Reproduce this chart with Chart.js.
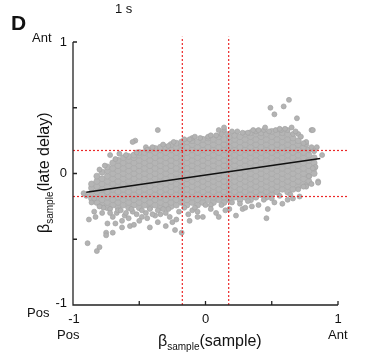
<!DOCTYPE html>
<html>
<head>
<meta charset="utf-8">
<script src="https://cdn.jsdelivr.net/npm/chart.js@4.4.1/dist/chart.umd.min.js"></script>
<style>
  html, body { margin: 0; padding: 0; background: #fff; }
  canvas { display: block; }
</style>
</head>
<body>
<canvas id="betaChart" width="374" height="363"></canvas>
<script>
// dense part of the cloud, read column by column (x, then the y values in that column)
const coreColX = [-0.86, -0.82, -0.78, -0.74, -0.70, -0.66, -0.62, -0.58, -0.54, -0.50, -0.46,
  -0.42, -0.38, -0.34, -0.30, -0.26, -0.22, -0.18, -0.14, -0.10, -0.06, -0.02, 0.02, 0.06,
  0.10, 0.14, 0.18, 0.22, 0.26, 0.30, 0.34, 0.38, 0.42, 0.46, 0.50, 0.54, 0.58, 0.62, 0.66,
  0.70, 0.74, 0.78, 0.82];
const coreColY = [
  [-0.19, -0.15, -0.11, -0.08],
  [-0.22, -0.18, -0.14, -0.10, -0.06, -0.02],
  [-0.24, -0.20, -0.16, -0.12, -0.08, -0.04, 0.01],
  [-0.26, -0.22, -0.18, -0.14, -0.10, -0.06, -0.02, 0.02, 0.05],
  [-0.24, -0.20, -0.16, -0.12, -0.08, -0.04, 0.00, 0.04, 0.08],
  [-0.26, -0.22, -0.18, -0.14, -0.10, -0.06, -0.02, 0.02, 0.06, 0.10],
  [-0.24, -0.20, -0.16, -0.12, -0.08, -0.04, 0.00, 0.04, 0.08, 0.12],
  [-0.26, -0.22, -0.18, -0.14, -0.10, -0.06, -0.02, 0.02, 0.06, 0.10, 0.13],
  [-0.24, -0.20, -0.16, -0.12, -0.08, -0.04, 0.00, 0.04, 0.08, 0.12, 0.14],
  [-0.26, -0.22, -0.18, -0.14, -0.10, -0.06, -0.02, 0.02, 0.06, 0.10, 0.14, 0.16],
  [-0.24, -0.20, -0.16, -0.12, -0.08, -0.04, 0.00, 0.04, 0.08, 0.12, 0.16],
  [-0.26, -0.22, -0.18, -0.14, -0.10, -0.06, -0.02, 0.02, 0.06, 0.10, 0.14, 0.18],
  [-0.24, -0.20, -0.16, -0.12, -0.08, -0.04, 0.00, 0.04, 0.08, 0.12, 0.16, 0.19],
  [-0.26, -0.22, -0.18, -0.14, -0.10, -0.06, -0.02, 0.02, 0.06, 0.10, 0.14, 0.18, 0.20],
  [-0.24, -0.20, -0.16, -0.12, -0.08, -0.04, 0.00, 0.04, 0.08, 0.12, 0.16, 0.20],
  [-0.25, -0.22, -0.18, -0.14, -0.10, -0.06, -0.02, 0.02, 0.06, 0.10, 0.14, 0.18, 0.22],
  [-0.24, -0.20, -0.16, -0.12, -0.08, -0.04, 0.00, 0.04, 0.08, 0.12, 0.16, 0.20, 0.23],
  [-0.22, -0.18, -0.14, -0.10, -0.06, -0.02, 0.02, 0.06, 0.10, 0.14, 0.18, 0.22, 0.24],
  [-0.24, -0.20, -0.16, -0.12, -0.08, -0.04, 0.00, 0.04, 0.08, 0.12, 0.16, 0.20, 0.24],
  [-0.22, -0.18, -0.14, -0.10, -0.06, -0.02, 0.02, 0.06, 0.10, 0.14, 0.18, 0.22, 0.25],
  [-0.24, -0.20, -0.16, -0.12, -0.08, -0.04, 0.00, 0.04, 0.08, 0.12, 0.16, 0.20, 0.24],
  [-0.22, -0.18, -0.14, -0.10, -0.06, -0.02, 0.02, 0.06, 0.10, 0.14, 0.18, 0.22, 0.26],
  [-0.20, -0.16, -0.12, -0.08, -0.04, 0.00, 0.04, 0.08, 0.12, 0.16, 0.20, 0.24, 0.27],
  [-0.22, -0.18, -0.14, -0.10, -0.06, -0.02, 0.02, 0.06, 0.10, 0.14, 0.18, 0.22, 0.26],
  [-0.20, -0.16, -0.12, -0.08, -0.04, 0.00, 0.04, 0.08, 0.12, 0.16, 0.20, 0.24, 0.28],
  [-0.22, -0.18, -0.14, -0.10, -0.06, -0.02, 0.02, 0.06, 0.10, 0.14, 0.18, 0.22, 0.26],
  [-0.20, -0.16, -0.12, -0.08, -0.04, 0.00, 0.04, 0.08, 0.12, 0.16, 0.20, 0.24, 0.28],
  [-0.18, -0.14, -0.10, -0.06, -0.02, 0.02, 0.06, 0.10, 0.14, 0.18, 0.22, 0.26, 0.29],
  [-0.20, -0.16, -0.12, -0.08, -0.04, 0.00, 0.04, 0.08, 0.12, 0.16, 0.20, 0.24, 0.28],
  [-0.18, -0.14, -0.10, -0.06, -0.02, 0.02, 0.06, 0.10, 0.14, 0.18, 0.22, 0.26, 0.30],
  [-0.20, -0.16, -0.12, -0.08, -0.04, 0.00, 0.04, 0.08, 0.12, 0.16, 0.20, 0.24, 0.28, 0.31],
  [-0.18, -0.14, -0.10, -0.06, -0.02, 0.02, 0.06, 0.10, 0.14, 0.18, 0.22, 0.26, 0.30],
  [-0.16, -0.12, -0.08, -0.04, 0.00, 0.04, 0.08, 0.12, 0.16, 0.20, 0.24, 0.28, 0.31],
  [-0.18, -0.14, -0.10, -0.06, -0.02, 0.02, 0.06, 0.10, 0.14, 0.18, 0.22, 0.26, 0.30],
  [-0.16, -0.12, -0.08, -0.04, 0.00, 0.04, 0.08, 0.12, 0.16, 0.20, 0.24, 0.28, 0.32],
  [-0.14, -0.10, -0.06, -0.02, 0.02, 0.06, 0.10, 0.14, 0.18, 0.22, 0.26, 0.30],
  [-0.12, -0.08, -0.04, 0.00, 0.04, 0.08, 0.12, 0.16, 0.20, 0.24, 0.28, 0.31],
  [-0.14, -0.10, -0.06, -0.02, 0.02, 0.06, 0.10, 0.14, 0.18, 0.22, 0.26, 0.30],
  [-0.12, -0.08, -0.04, 0.00, 0.04, 0.08, 0.12, 0.16, 0.20, 0.24, 0.27],
  [-0.10, -0.06, -0.02, 0.02, 0.06, 0.10, 0.14, 0.18, 0.22, 0.25],
  [-0.08, -0.04, 0.00, 0.04, 0.08, 0.12, 0.16, 0.20],
  [-0.06, -0.02, 0.02, 0.06, 0.10, 0.14, 0.18],
  [0.00, 0.04, 0.08, 0.12]
];

// loose points around the edges of the cloud (x and y lists, same order)
const edgeX = [
  // above the band
  -0.36, -0.53, -0.55, -0.72, -0.65, -0.45, -0.10, -0.08, 0.02, 0.10, 0.14, 0.14,
  0.20, 0.24, 0.32, 0.48, 0.53, 0.57, 0.49, 0.59, 0.63, 0.52, 0.69, 0.65, 0.80, 0.81, 0.70,
  0.62, 0.44, 0.38,
  -0.80, -0.76, -0.68, -0.60, -0.52, -0.44, -0.40, -0.32, -0.28, -0.24, -0.16, -0.12,
  -0.04, 0.04, 0.08, 0.12, 0.16, 0.28, 0.36, 0.40, 0.45, 0.56, 0.60, 0.66, 0.68, 0.72, 0.76,
  // right end
  0.84, 0.88, 0.83, 0.81, 0.78, 0.85, 0.76, 0.76, 0.80, 0.82, 0.74,
  // below the band, right half
  0.47, 0.46, 0.58, 0.71, 0.76, 0.85, 0.66, 0.62, 0.52, 0.40, 0.35, 0.28,
  0.00, 0.04, 0.12, 0.20, 0.26, 0.32, 0.44, 0.50, 0.56, 0.64, 0.70, 0.74, 0.80, 0.30, 0.18,
  // below the band, middle
  0.23, 0.10, -0.02, -0.06, 0.08, -0.13, -0.18, -0.23, -0.25, -0.36, -0.38, -0.22, 0.15,
  -0.10, -0.30, -0.20, 0.04, -0.16, -0.08, -0.12, -0.06, -0.27, -0.34,
  // below the band, left half
  -0.88, -0.89, -0.82, -0.80, -0.75, -0.75, -0.70, -0.63, -0.57, -0.54, -0.74, -0.63,
  -0.86, -0.84, -0.78, -0.67, -0.61, -0.52, -0.45, -0.70, -0.58, -0.48, -0.40, -0.66, -0.55,
  -0.77, -0.90, -0.92, -0.84, -0.80, -0.72, -0.64, -0.56, -0.48, -0.42, -0.36, -0.32, -0.28,
  -0.83, -0.72, -0.68, -0.60, -0.50, -0.44, -0.30, -0.42];
const edgeY = [
  0.33, 0.25, 0.24, 0.14, 0.15, 0.20, 0.27, 0.28, 0.28, 0.33, 0.33, 0.35,
  0.32, 0.32, 0.31, 0.32, 0.33, 0.33, 0.50, 0.51, 0.56, 0.45, 0.42, 0.35, 0.33, 0.33, 0.30,
  0.33, 0.33, 0.32,
  0.03, 0.06, 0.11, 0.14, 0.16, 0.18, 0.20, 0.22, 0.21, 0.24, 0.26, 0.26,
  0.27, 0.29, 0.29, 0.30, 0.30, 0.31, 0.33, 0.33, 0.35, 0.34, 0.34, 0.30, 0.32, 0.28, 0.22,
  0.20, 0.14, 0.05, 0.04, -0.02, -0.06, -0.09, 0.24, 0.20, 0.17, 0.23,
  -0.27, -0.34, -0.23, -0.175, -0.10, -0.07, -0.19, -0.20, -0.22, -0.24, -0.25, -0.27,
  -0.24, -0.24, -0.24, -0.22, -0.23, -0.21, -0.20, -0.19, -0.17, -0.16, -0.12, -0.10, -0.08, -0.26, -0.27,
  -0.32, -0.33, -0.33, -0.33, -0.30, -0.31, -0.45, -0.43, -0.37, -0.37, -0.32, -0.35, -0.28,
  -0.28, -0.30, -0.29, -0.27, -0.26, -0.26, -0.36, -0.29, -0.33, -0.31,
  -0.35, -0.53, -0.59, -0.56, -0.45, -0.47, -0.45, -0.41, -0.40, -0.39, -0.38, -0.36,
  -0.22, -0.29, -0.30, -0.30, -0.32, -0.31, -0.30, -0.33, -0.34, -0.33, -0.31, -0.28, -0.29,
  -0.26, -0.17, -0.15, -0.19, -0.25, -0.27, -0.28, -0.27, -0.28, -0.27, -0.28, -0.27, -0.27,
  -0.33, -0.30, -0.38, -0.30, -0.36, -0.34, -0.40, -0.41];

// regression line end points
const fitX = [-0.90, 0.866];
const fitY = [-0.142, 0.114];

// red dotted criteria lines
const critVals = [-0.175, 0.175];

const tickVals = [-1, -0.5, 0, 0.5, 1];
const tickLabels = ['-1', '', '0', '', '1'];

const corePts = [];
coreColX.forEach((x, i) => {
    coreColY[i].forEach(y => corePts.push({ x: x, y: y }));
});
const edgePts = edgeX.map((x, i) => ({ x: x, y: edgeY[i] }));
const fitPts = fitX.map((x, i) => ({ x: x, y: fitY[i] }));

const RED = 'rgba(235, 30, 30, 0.95)';
const critSets = [];
critVals.forEach(v => {
    critSets.push({
        type: 'line', data: [{ x: v, y: -1 }, { x: v, y: 1.04 }],
        borderColor: RED, borderWidth: 1.2, borderDash: [2, 2],
        pointRadius: 0, clip: false
    });
    critSets.push({
        type: 'line', data: [{ x: -1, y: v }, { x: 1.07, y: v }],
        borderColor: RED, borderWidth: 1.2, borderDash: [2, 2],
        pointRadius: 0, clip: false
    });
});

const SANS = '"Liberation Sans", Arial, Helvetica, sans-serif';

const axisDecor = {
    id: 'axisDecor',
    afterDraw(chart) {
        const ctx = chart.ctx;
        const xs = chart.scales.x, ys = chart.scales.y;
        const x0 = xs.getPixelForValue(-1), x1 = xs.getPixelForValue(1);
        const y0 = ys.getPixelForValue(-1), y1 = ys.getPixelForValue(1);
        ctx.save();
        ctx.strokeStyle = '#222';
        ctx.lineWidth = 1.3;
        ctx.beginPath();
        ctx.moveTo(x0, y1); ctx.lineTo(x0, y0); ctx.lineTo(x1, y0);
        // inward ticks
        tickVals.forEach(v => {
            const px = xs.getPixelForValue(v);
            ctx.moveTo(px, y0); ctx.lineTo(px, y0 - 4);
            const py = ys.getPixelForValue(v);
            ctx.moveTo(x0, py); ctx.lineTo(x0 + 4, py);
        });
        ctx.stroke();

        ctx.fillStyle = '#111';
        ctx.font = '13px ' + SANS;
        ctx.textBaseline = 'middle';
        ctx.textAlign = 'right';
        tickVals.forEach((v, i) => {
            if (tickLabels[i]) ctx.fillText(tickLabels[i], x0 - 6, ys.getPixelForValue(v) + (v === -1 ? -2 : 0));
        });
        ctx.textAlign = 'center';
        tickVals.forEach((v, i) => {
            if (tickLabels[i]) ctx.fillText(tickLabels[i], xs.getPixelForValue(v) + (v === -1 ? 1 : 0), y0 + 14);
        });

        ctx.textAlign = 'left';
        ctx.fillText('Ant', 32, 38);
        ctx.fillText('Pos', 27, 313);
        ctx.fillText('Pos', 57, 335);
        ctx.fillText('Ant', 328, 335);
        ctx.fillText('1 s', 115, 9);

        ctx.font = 'bold 21px ' + SANS;
        ctx.fillText('D', 11, 24);

        // x axis title: beta_sample(sample)
        ctx.textBaseline = 'alphabetic';
        let cx = 158;
        ctx.font = '16px ' + SANS;
        ctx.fillText('\u03b2', cx, 346);
        cx += ctx.measureText('\u03b2').width;
        ctx.font = '10px ' + SANS;
        ctx.fillText('sample', cx, 350);
        cx += ctx.measureText('sample').width;
        ctx.font = '16px ' + SANS;
        ctx.fillText('(sample)', cx, 346);

        // y axis title, rotated
        ctx.translate(49, 233);
        ctx.rotate(-Math.PI / 2);
        let tx = 0;
        ctx.font = '16px ' + SANS;
        ctx.fillText('\u03b2', tx, 0);
        tx += ctx.measureText('\u03b2').width;
        ctx.font = '10px ' + SANS;
        ctx.fillText('sample', tx, 4);
        tx += ctx.measureText('sample').width;
        ctx.font = '16px ' + SANS;
        ctx.fillText('(late delay)', tx, 0);
        ctx.restore();
    }
};

const ctx = document.getElementById('betaChart').getContext('2d');
const chart = new Chart(ctx, {
    type: 'scatter',
    data: {
        datasets: [
            {
                type: 'line', data: fitPts, borderColor: '#111', borderWidth: 1.5,
                pointRadius: 0
            },
            ...critSets,
            {
                data: edgePts, pointRadius: 2.5, backgroundColor: '#b3b3b3',
                borderColor: '#a4a4a4', borderWidth: 0.7
            },
            {
                data: corePts, pointRadius: 3, backgroundColor: '#b5b5b5',
                borderColor: '#a8a8a8', borderWidth: 0.7
            }
        ]
    },
    options: {
        responsive: false,
        animation: false,
        devicePixelRatio: 1,
        layout: { padding: { left: 73, right: 36, top: 42, bottom: 58 } },
        plugins: { legend: { display: false }, tooltip: { enabled: false } },
        scales: {
            x: { type: 'linear', min: -1, max: 1, display: false },
            y: { type: 'linear', min: -1, max: 1, display: false }
        }
    },
    plugins: [axisDecor]
});
</script>
</body>
</html>
